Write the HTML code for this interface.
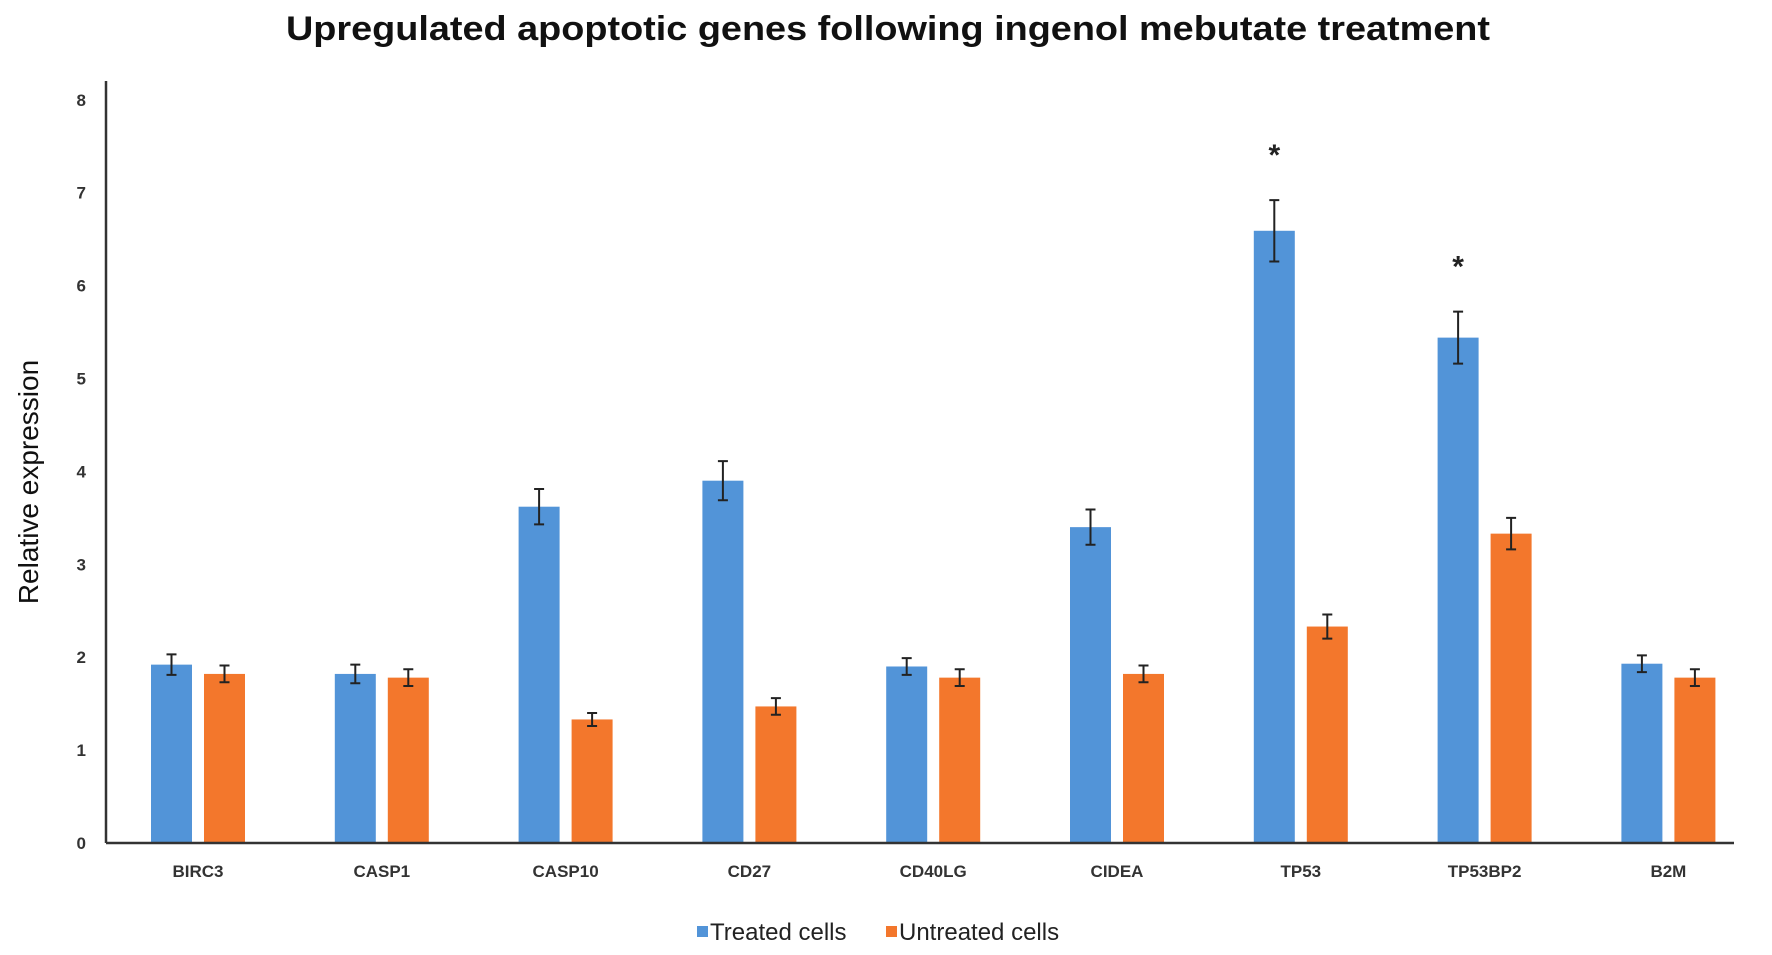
<!DOCTYPE html>
<html><head><meta charset="utf-8"><style>
html,body{margin:0;padding:0;background:#fff;}
svg{display:block;font-family:"Liberation Sans",sans-serif;}
</style></head><body>
<svg id="chart" width="1772" height="955" viewBox="0 0 1772 955">
<text x="888" y="40" text-anchor="middle" font-size="34" font-weight="bold" fill="#111" textLength="1204" lengthAdjust="spacingAndGlyphs">Upregulated apoptotic genes following ingenol mebutate treatment</text>
<text transform="translate(38,482) rotate(-90)" text-anchor="middle" font-size="28" fill="#111">Relative expression</text>
<g id="marks"></g>
<line x1="106" y1="81" x2="106" y2="843" stroke="#333" stroke-width="2.5"/>
<line x1="106" y1="843" x2="1734" y2="843" stroke="#333" stroke-width="2.5"/>
<g>
<rect x="697" y="926" width="11" height="11" fill="#5294d8"/>
<text x="710" y="940" font-size="24" fill="#222">Treated cells</text>
<rect x="886" y="926" width="11" height="11" fill="#f3772c"/>
<text x="899" y="940" font-size="24" fill="#222">Untreated cells</text>
</g>
</svg>
<script>
const categories = ["BIRC3","CASP1","CASP10","CD27","CD40LG","CIDEA","TP53","TP53BP2","B2M"];
const treated = [1.92,1.82,3.62,3.9,1.9,3.4,6.59,5.44,1.93];
const treatedErr = [0.11,0.1,0.19,0.21,0.09,0.19,0.33,0.28,0.09];
const untreated = [1.82,1.78,1.33,1.47,1.78,1.82,2.33,3.33,1.78];
const untreatedErr = [0.09,0.09,0.07,0.09,0.09,0.09,0.13,0.17,0.09];
const significant = [false,false,false,false,false,false,true,true,false];
const yTicks = [0,1,2,3,4,5,6,7,8];

const NS = "http://www.w3.org/2000/svg";
const g = document.getElementById("marks");
const y = v => 843 - v * 92.9;
const cx = i => 197 + i * 183.8;
function mk(tag, attrs, parent) {
  const e = document.createElementNS(NS, tag);
  for (const k in attrs) e.setAttribute(k, attrs[k]);
  (parent || g).appendChild(e);
  return e;
}
yTicks.forEach(t => {
  const e = mk("text", {x: 86, y: y(t) + 6, "text-anchor": "end", "font-size": 17, "font-weight": "bold", fill: "#333"});
  e.textContent = t;
  
  
});
function errBar(x, v, err) {
  const p = mk("path", {d: `M${x-5},${y(v+err)}H${x+5}M${x},${y(v+err)}V${y(v-err)}M${x-5},${y(v-err)}H${x+5}`, stroke: "#222", "stroke-width": 2, fill: "none"});
  
  
}
categories.forEach((c, i) => {
  const c0 = cx(i);
  const b1 = mk("rect", {x: c0 - 46, y: y(treated[i]), width: 41, height: 843 - y(treated[i]), fill: "#5294d8"});
  
  
  const b2 = mk("rect", {x: c0 + 7, y: y(untreated[i]), width: 41, height: 843 - y(untreated[i]), fill: "#f3772c"});
  
  
  errBar(c0 - 25.5, treated[i], treatedErr[i]);
  errBar(c0 + 27.5, untreated[i], untreatedErr[i]);
  const t = mk("text", {x: c0 + 1, y: 877, "text-anchor": "middle", "font-size": 17, "font-weight": "bold", fill: "#333"});
  t.textContent = c;
  
  
  if (significant[i]) {
    const s = mk("text", {x: c0 - 25.5, y: y(treated[i] + treatedErr[i]) - 35, "text-anchor": "middle", "font-size": 30, "font-weight": "bold", fill: "#222"});
    s.textContent = "*";
    
    
  }
});
</script>
</body></html>
